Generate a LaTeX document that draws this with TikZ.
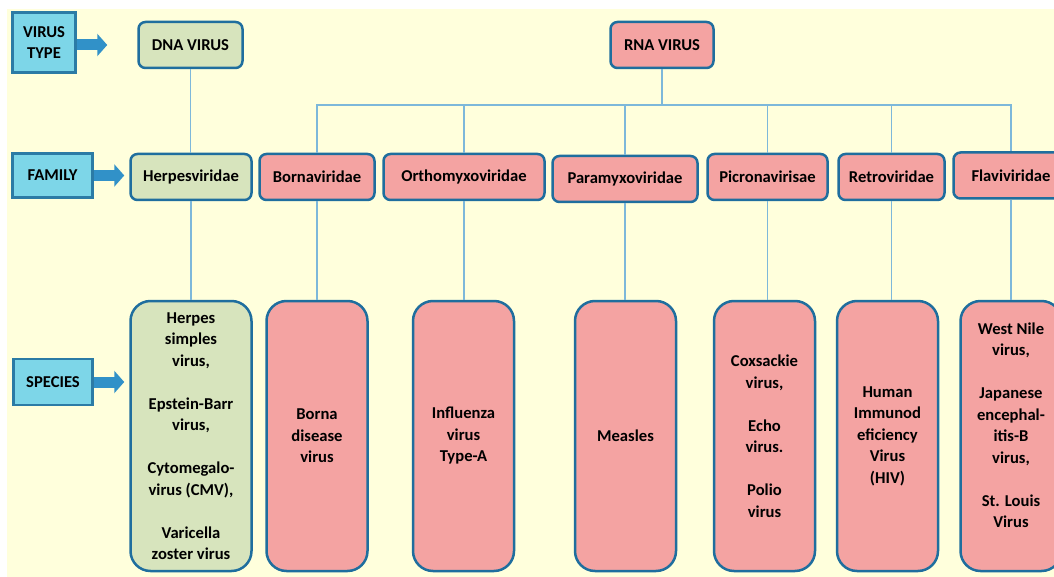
\documentclass[tikz,border=0pt]{standalone}
\usepackage{fontspec}
\setmainfont{Carlito}
\usetikzlibrary{arrows.meta}
\definecolor{bgyellow}{HTML}{FFFFDC}
\definecolor{tagcyan}{HTML}{7DD6E8}
\definecolor{tagedge}{HTML}{2B7BA5}
\definecolor{arrowblue}{HTML}{3191C8}
\definecolor{dnagreen}{HTML}{D7E4BD}
\definecolor{rnapink}{HTML}{F4A3A2}
\definecolor{boxedge}{HTML}{1F6E9E}
\definecolor{linkblue}{HTML}{7DB8DA}
\newcommand\boxfont{\fontsize{16.6pt}{21.5pt}\selectfont\bfseries}
\tikzset{
  tag/.style     = {rectangle, draw=tagedge, line width=2.2pt, fill=tagcyan,
                    align=center, font=\boxfont, inner sep=0pt},
  family/.style  = {rectangle, rounded corners=7pt, draw=boxedge, line width=2.5pt,
                    minimum height=46pt, align=center, font=\boxfont, inner sep=0pt},
  species/.style = {rectangle, rounded corners=20pt, draw=boxedge, line width=2.5pt,
                    minimum width=101pt, minimum height=270pt, align=center,
                    font=\boxfont, inner sep=0pt},
  dna/.style     = {fill=dnagreen},
  rna/.style     = {fill=rnapink},
  link/.style    = {draw=linkblue, line width=1.3pt},
  pointer/.style = {-{Triangle[length=10pt,width=22pt]}, line width=11pt, arrowblue}
}

\begin{document}
\begin{tikzpicture}[x=1pt, y=-1pt]
  \clip (0,0) rectangle (1054,577);
  \fill[bgyellow] (7,9) rectangle (1054,577);

  % row labels
  \node (vtype) [tag, minimum width=63, minimum height=60] at (44,42.5) {VIRUS\\TYPE};
  \node (lfam)  [tag, minimum width=80, minimum height=44] at (52.5,175.5) {FAMILY};
  \node (lspec) [tag, minimum width=79, minimum height=46] at (53,382) {SPECIES};

  % virus types
  \node (dna) [family, dna, minimum width=104] at (190.5,45) {DNA VIRUS};
  \node (rna) [family, rna, minimum width=103] at (662,45) {RNA VIRUS};

  % families
  \node (herpes) [family, dna, minimum width=121] at (191,177)    {Herpesviridae};
  \node (borna)  [family, rna, minimum width=115] at (317,177)    {Bornaviridae};
  \node (ortho)  [family, rna, minimum width=161] at (464,177)    {Orthomyxoviridae};
  \node (para)   [family, rna, minimum width=145] at (625,179)    {Paramyxoviridae};
  \node (picro)  [family, rna, minimum width=120] at (767.5,177)  {Picronavirisae};
  \node (retro)  [family, rna, minimum width=106] at (891.5,177)  {Retroviridae};
  \node (flavi)  [family, rna, minimum width=115] at (1011,175.5) {Flaviviridae};

  % species
  \node (herpessp) [species, dna, minimum width=121] at (191,436)
    {Herpes\\simples\\virus,\\[21.5pt]Epstein-Barr\\virus,\\[21.5pt]Cytomegalo-\\virus (CMV),\\[21.5pt]Varicella\\zoster virus};
  \node (bornasp)  [species, rna] at (317,436)    {Borna\\disease\\virus};
  \node (orthosp)  [species, rna] at (463.5,436)  {Influenza\\virus\\Type-A};
  \node (parasp)   [species, rna] at (625.5,436)  {Measles};
  \node (picrosp)  [species, rna] at (764.5,436)
    {Coxsackie\\virus,\\[21.5pt]Echo\\virus.\\[21.5pt]Polio\\virus};
  \node (retrosp)  [species, rna] at (887.5,436)  {Human\\Immunod\\eficiency\\Virus\\(HIV)};
  \node (flavisp)  [species, rna] at (1011,436)
    {West Nile\\virus,\\[21.5pt]Japanese\\encephal-\\itis-B\\virus,\\[21.5pt]St. Louis\\Virus\\\mbox{}};

  % label arrows
  \draw[pointer, shorten >=30pt] (vtype.east |- dna.west) -- (dna.west);
  \draw[pointer, shorten >=5pt]  (lfam.east) -- (lfam.east -| herpes.west);
  \draw[pointer, shorten >=5pt]  (lspec.east) -- (lspec.east -| herpessp.west);

  % DNA branch
  \draw[link] (dna.south) -- (dna.south |- herpes.north);
  \draw[link] (herpes.south) -- (herpes.south |- herpessp.north);

  % RNA branch
  \coordinate (bus) at (662,105);
  \draw[link] (rna.south) -- (bus) -| (borna.north);
  \draw[link] (bus) -| (ortho.north);
  \draw[link] (bus) -| (para.north);
  \draw[link] (bus) -| (picro.north);
  \draw[link] (bus) -| (retro.north);
  \draw[link] (bus) -| (flavi.north);

  % family to species
  \draw[link] (borna.south) -- (borna.south |- bornasp.north);
  \draw[link] (ortho.south) -- (ortho.south |- orthosp.north);
  \draw[link] (para.south)  -- (para.south |- parasp.north);
  \draw[link] (picro.south) -- (picro.south |- picrosp.north);
  \draw[link] (retro.south) -- (retro.south |- retrosp.north);
  \draw[link] (flavi.south) -- (flavi.south |- flavisp.north);
\end{tikzpicture}
\end{document}
